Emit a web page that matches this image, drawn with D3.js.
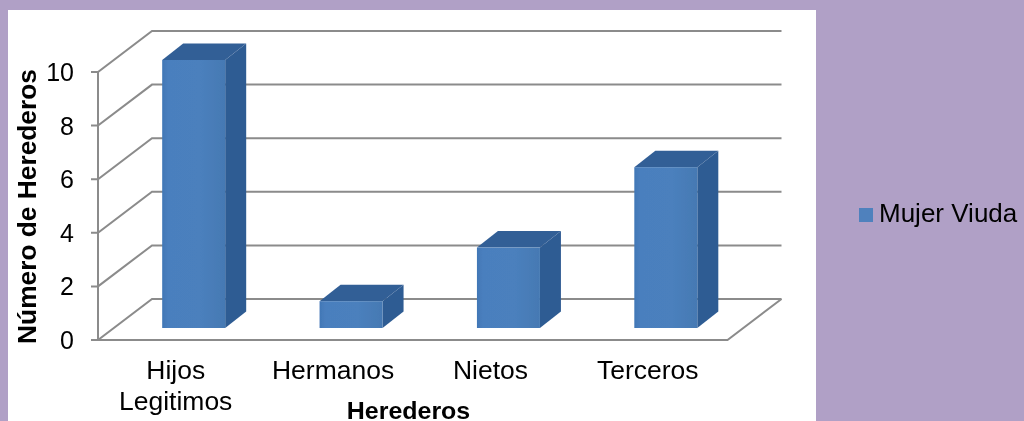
<!DOCTYPE html>
<html><head><meta charset="utf-8">
<script src="https://d3js.org/d3.v7.min.js"></script>
<style>html,body{margin:0;padding:0;background:#b0a0c6;overflow:hidden}svg{display:block}text{font-family:"Liberation Sans",Arial,sans-serif;fill:#000}</style>
</head><body><script>
const categories=[["Hijos","Legitimos"],["Hermanos"],["Nietos"],["Terceros"]];
const seriesName="Mujer Viuda";
const values=[10,1,3,6];
const ticks=[0,2,4,6,8,10];
const yTitle="Número de Herederos", xTitle="Herederos";

const W=1024,H=421;
const svg=d3.select("body").append("svg").attr("width",W).attr("height",H);
const defs=svg.append("defs");
const blur=defs.append("filter").attr("id","soft").attr("filterUnits","userSpaceOnUse").attr("x",0).attr("y",0).attr("width",W).attr("height",H);
blur.append("feGaussianBlur").attr("stdDeviation",0.5);
const g1=defs.append("linearGradient").attr("id","front").attr("x1",0).attr("x2",1).attr("y1",0).attr("y2",0);
[[0,"#4177b6"],[0.1,"#4a7fbe"],[0.6,"#4b80bd"],[1,"#4579b3"]].forEach(d=>g1.append("stop").attr("offset",d[0]).attr("stop-color",d[1]));

svg.append("rect").attr("x",8).attr("y",10).attr("width",808).attr("height",H-10).attr("fill","#fff");

const x=d3.scaleBand().domain(d3.range(categories.length)).range([98,727.5]);
const y=d3.scaleLinear().domain([0,10]).range([340,72]);
const dxWall=54,dyWall=-41;         // perspective of the chart walls
const dxBar=21,dyBar=-16.5,barLift=12,barShift=17,barW=63; // perspective of the columns

const plot=svg.append("g").attr("filter","url(#soft)");
const grey="#8b8b8b";
const line=plot.append("g").attr("fill","none").attr("stroke",grey).attr("stroke-width",2);
ticks.forEach(t=>{
  const v=y(t);
  line.append("path").attr("d",`M${x.range()[0]-7},${v}H${x.range()[0]}L${x.range()[0]+dxWall},${v+dyWall}H${x.range()[1]+dxWall}`);
});
line.append("path").attr("d",`M${x.range()[0]},${y(10)}V${y(0)}H${x.range()[1]}L${x.range()[1]+dxWall},${y(0)+dyWall}`);

const bars=plot.selectAll("g.bar").data(values).join("g").attr("class","bar");
const bx=(d,i)=>x(i)+x.bandwidth()/2+barShift-barW/2;
const barTop=d=>y(d)-barLift, barBot=y(0)-barLift;
bars.append("path").attr("fill","#2f5c93").attr("d",(d,i)=>{const a=bx(d,i)+barW;return `M${a},${barTop(d)}l${dxBar},${dyBar}V${barBot+dyBar}L${a},${barBot}Z`;});
bars.append("path").attr("fill","#325f96").attr("d",(d,i)=>{const a=bx(d,i);return `M${a},${barTop(d)}l${dxBar},${dyBar}h${barW}l${-dxBar},${-dyBar}Z`;});
bars.append("rect").attr("fill","url(#front)").attr("x",bx).attr("y",barTop).attr("width",barW).attr("height",d=>barBot-barTop(d));

const text=svg.append("g").attr("filter","url(#soft)");
text.selectAll("text.t").data(ticks).join("text").attr("class","t").attr("text-anchor","end").attr("font-size",25)
  .attr("x",74).attr("y",d=>y(d)+9).text(d=>d);
categories.forEach((c,i)=>c.forEach((s,j)=>{
  text.append("text").attr("text-anchor","middle").attr("font-size",25)
    .attr("transform",`translate(${x(i)+x.bandwidth()/2-1},${379+j*31}) scale(1.06,1)`).text(s);
}));
text.append("text").attr("text-anchor","middle").attr("font-size",24).attr("font-weight","bold")
  .attr("transform","translate(408.5,419) scale(1.04,1)").text(xTitle);
text.append("text").attr("text-anchor","middle").attr("font-size",26.3).attr("font-weight","bold")
  .attr("transform","translate(36,206.5) rotate(-90)").text(yTitle);
svg.append("rect").attr("x",859).attr("y",208).attr("width",14).attr("height",14).attr("fill","#4f81bd");
text.append("text").attr("font-size",25.5).attr("transform","translate(879,222) scale(1.02,1)").text(seriesName);
</script></body></html>
